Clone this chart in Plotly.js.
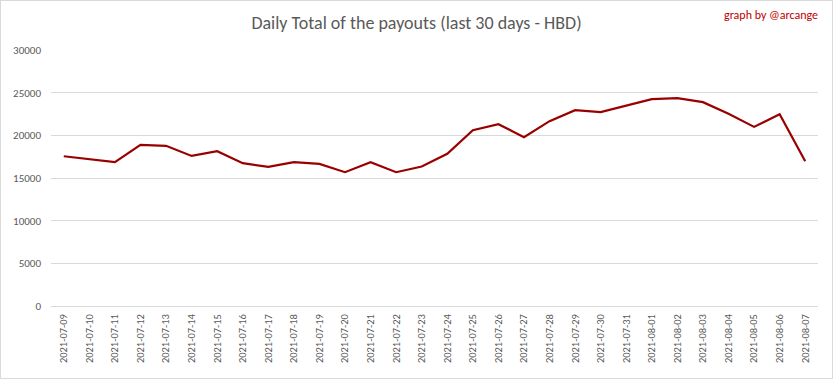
<!DOCTYPE html>
<html>
<head>
<meta charset="utf-8">
<script src="https://cdn.plot.ly/plotly-3.0.1.min.js"></script>
<style>
html,body{margin:0;padding:0;background:#fff;}
#wrap{position:relative;width:833px;height:379px;}
#chart{width:833px;height:379px;}
#frame{position:absolute;left:0;top:0;width:831px;height:377px;border:1px solid #d9d9d9;pointer-events:none;}
</style>
</head>
<body>
<div id="wrap"><div id="chart"></div><div id="frame"></div></div>
<script>
const dates = ["2021-07-09","2021-07-10","2021-07-11","2021-07-12","2021-07-13","2021-07-14","2021-07-15","2021-07-16","2021-07-17","2021-07-18","2021-07-19","2021-07-20","2021-07-21","2021-07-22","2021-07-23","2021-07-24","2021-07-25","2021-07-26","2021-07-27","2021-07-28","2021-07-29","2021-07-30","2021-07-31","2021-08-01","2021-08-02","2021-08-03","2021-08-04","2021-08-05","2021-08-06","2021-08-07"];
const payouts = [17550,17200,16850,18880,18770,17590,18140,16740,16300,16850,16650,15680,16850,15680,16350,17830,20600,21310,19780,21660,22950,22720,23500,24240,24360,23890,22520,20990,22480,16970];
const yTicks = [0,5000,10000,15000,20000,25000,30000];

const font = "Carlito, Calibri, 'Liberation Sans Narrow', 'Open Sans', sans-serif";
Plotly.newPlot('chart', [{
  x: dates, y: payouts, type: 'scatter', mode: 'lines',
  line: {color: '#990000', width: 2.2}, hoverinfo: 'x+y'
}], {
  width: 833, height: 379,
  margin: {l: 51, r: 15, t: 50, b: 73},
  paper_bgcolor: '#ffffff', plot_bgcolor: '#ffffff',
  showlegend: false,
  title: {text: 'Daily Total of the payouts (last 30 days - HBD)', x: 0.5, xanchor: 'center', y: 0.94, yanchor: 'middle',
    font: {family: font, size: 18, color: '#595959'}},
  xaxis: {type: 'category', range: [-0.5, dates.length - 0.5], tickangle: -90, showgrid: false, ticks: '', showline: false, zeroline: false,
    ticklabelstandoff: 5, tickfont: {family: font, size: 10.5, color: '#595959'}},
  yaxis: {range: [0, 30000], tickvals: yTicks, ticktext: yTicks.map(String), showgrid: true, gridcolor: '#d9d9d9', gridwidth: 1,
    zeroline: true, zerolinecolor: '#d9d9d9', showline: false, ticks: '', ticklen: 0, ticklabelstandoff: 9,
    tickfont: {family: font, size: 11, color: '#595959'}},
  annotations: [{text: 'graph by @arcange', xref: 'paper', yref: 'paper', x: 1.003, y: 1.135, xanchor: 'right', yanchor: 'middle',
    showarrow: false, font: {family: font, size: 12, color: '#c00000'}}]
}, {displayModeBar: false, staticPlot: true});
</script>
</body>
</html>
